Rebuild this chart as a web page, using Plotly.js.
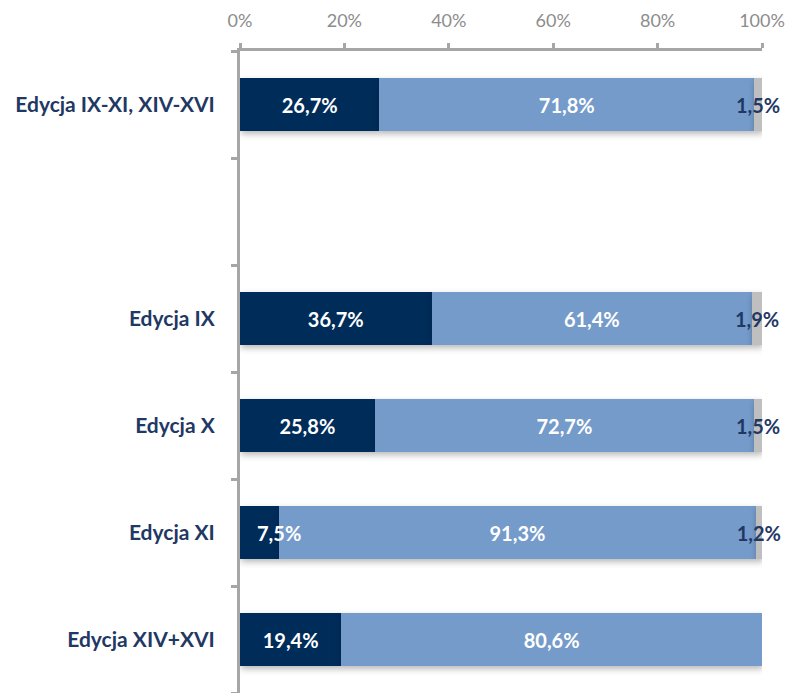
<!DOCTYPE html>
<html>
<head>
<meta charset="utf-8">
<script src="https://cdn.plot.ly/plotly-3.0.1.min.js"></script>
<style>
  html, body { margin: 0; padding: 0; background: #fff; }
  #chart { width: 788px; height: 693px; }
  .barlayer path { filter: drop-shadow(1px 3px 3px rgba(0,0,0,0.28)); }
</style>
</head>
<body>
<div id="chart"></div>
<script>
// categories (GAP is an empty spacer row)
const GAP = ' ';
const categories = ['Edycja IX-XI, XIV-XVI', GAP, 'Edycja IX', 'Edycja X', 'Edycja XI', 'Edycja XIV+XVI'];
const barCategories = ['Edycja IX-XI, XIV-XVI', 'Edycja IX', 'Edycja X', 'Edycja XI', 'Edycja XIV+XVI'];

const darkValues = [26.7, 36.7, 25.8, 7.5, 19.4];
const lightValues = [71.8, 61.4, 72.7, 91.3, 80.6];
const greyValues = [1.5, 1.9, 1.5, 1.2, 0];

const xTickVals = [0, 20, 40, 60, 80, 100];
const xTickText = ['0%', '20%', '40%', '60%', '80%', '100%'];

const labelFont = 'Lato, sans-serif';

function fmt(v) {
    return v > 0 ? v.toFixed(1).replace('.', ',') + '%' : '';
}

function makeTrace(values, color, textColor, texts) {
    return {
        type: 'bar',
        orientation: 'h',
        y: barCategories,
        x: values,
        text: texts || values.map(fmt),
        textposition: 'inside',
        insidetextanchor: 'middle',
        textangle: 0,
        constraintext: 'none',
        textfont: { family: labelFont, size: 20, color: textColor, weight: 'bold' },
        marker: { color: color, line: { width: 0 } },
        hoverinfo: 'skip',
        cliponaxis: false,
        showlegend: false
    };
}

// dark labels too wide for their bar are moved to the bar's end (as Excel does)
const darkTexts = darkValues.map(v => v < 10 ? '' : fmt(v));
const shiftedLabels = darkValues
    .map((v, i) => ({ v: v, cat: barCategories[i] }))
    .filter(d => d.v < 10)
    .map(d => ({
        x: d.v,
        y: d.cat,
        xref: 'x',
        yref: 'y',
        text: fmt(d.v),
        showarrow: false,
        xanchor: 'center',
        yanchor: 'middle',
        font: { family: labelFont, size: 20, color: '#ffffff', weight: 'bold' }
    }));

const data = [
    makeTrace(darkValues, '#002c5a', '#ffffff', darkTexts),
    makeTrace(lightValues, '#759bca', '#ffffff'),
    makeTrace(greyValues, '#bfbfbf', '#1f3864')
];

const layout = {
    width: 788,
    height: 693,
    margin: { l: 240, r: 26, t: 51, b: 0 },
    paper_bgcolor: '#ffffff',
    plot_bgcolor: '#ffffff',
    barmode: 'stack',
    bargap: 0.5,
    showlegend: false,
    annotations: shiftedLabels,
    xaxis: {
        side: 'top',
        range: [0, 100],
        tickvals: xTickVals,
        ticktext: xTickText,
        showgrid: false,
        zeroline: false,
        showline: true,
        linecolor: '#a6a6a6',
        linewidth: 3,
        ticks: 'outside',
        ticklen: 5,
        tickwidth: 3,
        tickcolor: '#a6a6a6',
        ticklabelstandoff: 9,
        tickfont: { family: labelFont, size: 18, color: '#8c8c8c' },
        fixedrange: true
    },
    yaxis: {
        type: 'category',
        categoryorder: 'array',
        categoryarray: categories,
        tickvals: categories,
        range: [categories.length - 0.5, -0.5],
        showgrid: false,
        zeroline: false,
        showline: true,
        linecolor: '#a6a6a6',
        linewidth: 3,
        ticks: 'outside',
        tickson: 'boundaries',
        ticklen: 6,
        tickwidth: 3,
        tickcolor: '#a6a6a6',
        ticklabelstandoff: 18,
        tickfont: { family: labelFont, size: 21, color: '#1f3864', weight: 'bold' },
        fixedrange: true
    }
};

Plotly.newPlot('chart', data, layout, { displayModeBar: false, staticPlot: true });
</script>
</body>
</html>
